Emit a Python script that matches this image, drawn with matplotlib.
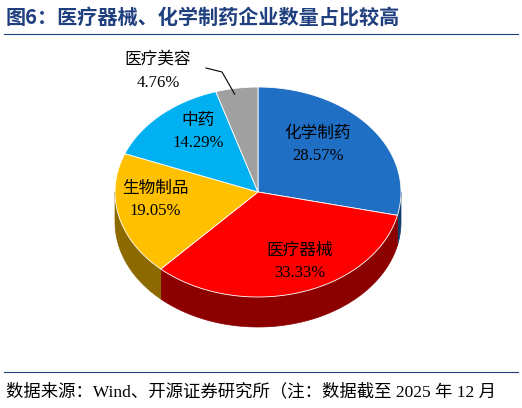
import numpy as np
import matplotlib
matplotlib.use("Agg")
import matplotlib.pyplot as plt
from matplotlib.patches import Polygon
import matplotlib.colors as mc

labels = ["化学制药", "医疗器械", "生物制品", "中药", "医疗美容"]
values = [28.57, 33.33, 19.05, 14.29, 4.76]
colors = ["#1F6FC4", "#FF0000", "#FFC000", "#00B0F0", "#A0A0A0"]
title = "图6：医疗器械、化学制药企业数量占比较高"
source = "数据来源：Wind、开源证券研究所（注：数据截至 2025 年 12 月"

fam = ["Liberation Serif", "Noto Sans CJK SC"]
fig = plt.figure(figsize=(5.22, 4.08), dpi=100)
ax = fig.add_axes([0, 0, 1, 1])
ax.set_xlim(0, 522); ax.set_ylim(408, 0); ax.axis("off")

cx, cy, rx, ry, depth = 258, 192, 143, 105, 30

def pt(a):
    r = np.radians(a)
    return cx + rx*np.cos(r), cy - ry*np.sin(r)

def darker(c, f=0.55):
    r, g, b = mc.to_rgb(c)
    return (r*f, g*f, b*f)

total = sum(values)
start = 90.0
spans = []
for v in values:
    end = start - v/total*360
    spans.append((end, start))
    start = end

for (a0, a1), c in zip(spans, colors):
    for off in (0, -360, 360):
        lo, hi = max(a0+off, 180), min(a1+off, 360)
        if hi > lo:
            ang = np.linspace(lo, hi, 80)
            top = [pt(a) for a in ang]
            bot = [(x, y+depth) for x, y in top[::-1]]
            ax.add_patch(Polygon(top+bot, closed=True, fc=darker(c), ec=darker(c), lw=0.5))

for (a0, a1), c in zip(spans, colors):
    ang = np.linspace(a1, a0, 120)
    poly = [(cx, cy)] + [pt(a) for a in ang]
    ax.add_patch(Polygon(poly, closed=True, fc=c, ec="white", lw=0.6))

lab_pos = [(318, 145), (300, 262), (155, 200), (198, 132)]
for (x, y), l, v in zip(lab_pos, labels[:4], values[:4]):
    ax.text(x, y-11, l, ha="center", va="center", fontsize=12, family=fam)
    ax.text(x, y+11, f"{v:.2f}%", ha="center", va="center", fontsize=12, family=fam)
ax.text(158, 60, labels[4], ha="center", va="center", fontsize=12, family=fam)
ax.text(158, 83, f"{values[4]:.2f}%", ha="center", va="center", fontsize=12, family=fam)
gx, gy = pt((spans[4][0]+spans[4][1])/2)
ax.plot([206, 222, gx-2], [68, 72, gy+6], color="black", lw=0.8)

ax.text(6, 17, title, ha="left", va="center", fontsize=14.5, fontweight="bold",
        color="#1F3F7F", family=["Noto Sans CJK SC"])
ax.plot([4, 518], [34, 34], color="#1F3F7F", lw=0.8)
ax.plot([4, 518], [372, 372], color="#1F3F7F", lw=0.8)
ax.text(6, 392, source, ha="left", va="center", fontsize=12.5, family=fam)

fig.savefig("out.png", dpi=100)
